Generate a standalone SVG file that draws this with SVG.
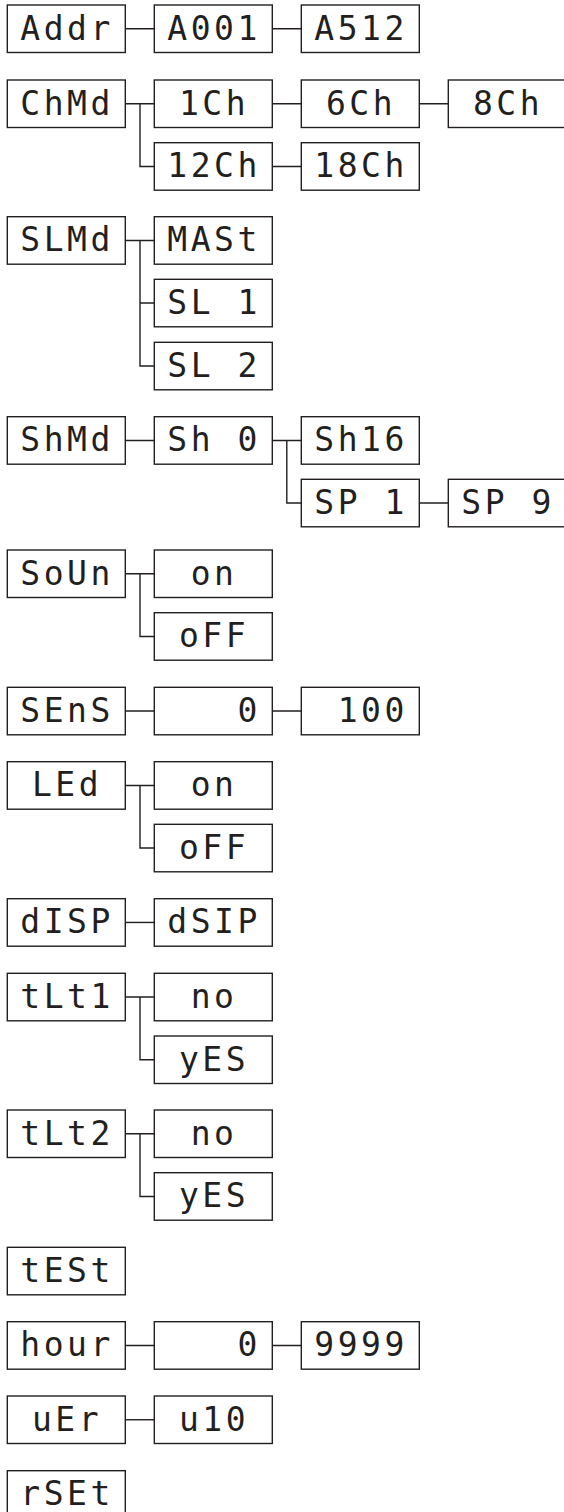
<svg xmlns="http://www.w3.org/2000/svg" width="564" height="1512" viewBox="0 0 564 1512">
<style>
.b{fill:#fff;stroke:#231f20;stroke-width:1.4}
.t{font-family:"DejaVu Sans Mono","Liberation Mono",monospace;font-size:33px;fill:#231f20;letter-spacing:3.5px;white-space:pre}
.c{fill:none;stroke:#231f20;stroke-width:1.4}
</style>
<rect width="564" height="1512" fill="#fff"/>
<g id="connectors" class="c">
<path d="M125.3 28.75H154.3M272.3 28.75H301.3"/>
<path d="M125.3 103.75H154.3M140 103.75V166.45H154.3M272.3 103.75H301.3M419.3 103.75H448.3M272.3 166.45H301.3"/>
<path d="M125.3 240.45H154.3M140 240.45V366.05H154.3M140 303.05H154.3"/>
<path d="M125.3 440.45H154.3M272.3 440.45H301.3M286.8 440.45V503.05H301.3M419.3 503.05H448.3"/>
<path d="M125.3 573.75H154.3M140 573.75V636.45H154.3"/>
<path d="M125.3 711.05H154.3M272.3 711.05H301.3"/>
<path d="M125.3 785.45H154.3M140 785.45V848.05H154.3"/>
<path d="M125.3 922.45H154.3"/>
<path d="M125.3 997.05H154.3M140 997.05V1059.75H154.3"/>
<path d="M125.3 1133.75H154.3M140 1133.75V1196.45H154.3"/>
<path d="M125.3 1345.45H154.3M272.3 1345.45H301.3"/>
<path d="M125.3 1419.75H154.3"/>
</g>
<g id="n_addr"><rect class="b" x="7.3" y="5" width="118" height="47.5"/><text class="t" x="20.3" y="39.5">Addr</text></g>
<g id="n_a001"><rect class="b" x="154.3" y="5" width="118" height="47.5"/><text class="t" x="167.3" y="39.5">A001</text></g>
<g id="n_a512"><rect class="b" x="301.3" y="5" width="118" height="47.5"/><text class="t" x="314.3" y="39.5">A512</text></g>
<g id="n_chmd"><rect class="b" x="7.3" y="80" width="118" height="47.5"/><text class="t" x="20.3" y="114.5">ChMd</text></g>
<g id="n_1ch"><rect class="b" x="154.3" y="80" width="118" height="47.5"/><text class="t" x="179" y="114.5">1Ch</text></g>
<g id="n_6ch"><rect class="b" x="301.3" y="80" width="118" height="47.5"/><text class="t" x="326" y="114.5">6Ch</text></g>
<g id="n_8ch"><rect class="b" x="448.3" y="80" width="118" height="47.5"/><text class="t" x="473" y="114.5">8Ch</text></g>
<g id="n_12ch"><rect class="b" x="154.3" y="142.7" width="118" height="47.5"/><text class="t" x="167.3" y="177.2">12Ch</text></g>
<g id="n_18ch"><rect class="b" x="301.3" y="142.7" width="118" height="47.5"/><text class="t" x="314.3" y="177.2">18Ch</text></g>
<g id="n_slmd"><rect class="b" x="7.3" y="216.7" width="118" height="47.5"/><text class="t" x="20.3" y="251.2">SLMd</text></g>
<g id="n_mast"><rect class="b" x="154.3" y="216.7" width="118" height="47.5"/><text class="t" x="167.3" y="251.2">MASt</text></g>
<g id="n_sl1"><rect class="b" x="154.3" y="279.3" width="118" height="47.5"/><text class="t" x="167.3" y="313.8" xml:space="preserve">SL 1</text></g>
<g id="n_sl2"><rect class="b" x="154.3" y="342.3" width="118" height="47.5"/><text class="t" x="167.3" y="376.8" xml:space="preserve">SL 2</text></g>
<g id="n_shmd"><rect class="b" x="7.3" y="416.7" width="118" height="47.5"/><text class="t" x="20.3" y="451.2">ShMd</text></g>
<g id="n_sh0"><rect class="b" x="154.3" y="416.7" width="118" height="47.5"/><text class="t" x="167.3" y="451.2" xml:space="preserve">Sh 0</text></g>
<g id="n_sh16"><rect class="b" x="301.3" y="416.7" width="118" height="47.5"/><text class="t" x="314.3" y="451.2">Sh16</text></g>
<g id="n_sp1"><rect class="b" x="301.3" y="479.3" width="118" height="47.5"/><text class="t" x="314.3" y="513.8" xml:space="preserve">SP 1</text></g>
<g id="n_sp9"><rect class="b" x="448.3" y="479.3" width="118" height="47.5"/><text class="t" x="461.3" y="513.8" xml:space="preserve">SP 9</text></g>
<g id="n_soun"><rect class="b" x="7.3" y="550" width="118" height="47.5"/><text class="t" x="20.3" y="584.5">SoUn</text></g>
<g id="n_son"><rect class="b" x="154.3" y="550" width="118" height="47.5"/><text class="t" x="190.7" y="584.5">on</text></g>
<g id="n_soff"><rect class="b" x="154.3" y="612.7" width="118" height="47.5"/><text class="t" x="179" y="647.2">oFF</text></g>
<g id="n_sens"><rect class="b" x="7.3" y="687.3" width="118" height="47.5"/><text class="t" x="20.3" y="721.8">SEnS</text></g>
<g id="n_s0"><rect class="b" x="154.3" y="687.3" width="118" height="47.5"/><text class="t" x="167.3" y="721.8" xml:space="preserve">   0</text></g>
<g id="n_s100"><rect class="b" x="301.3" y="687.3" width="118" height="47.5"/><text class="t" x="314.3" y="721.8" xml:space="preserve"> 100</text></g>
<g id="n_led"><rect class="b" x="7.3" y="761.7" width="118" height="47.5"/><text class="t" x="32" y="796.2">LEd</text></g>
<g id="n_lon"><rect class="b" x="154.3" y="761.7" width="118" height="47.5"/><text class="t" x="190.7" y="796.2">on</text></g>
<g id="n_loff"><rect class="b" x="154.3" y="824.3" width="118" height="47.5"/><text class="t" x="179" y="858.8">oFF</text></g>
<g id="n_disp"><rect class="b" x="7.3" y="898.7" width="118" height="47.5"/><text class="t" x="20.3" y="933.2">dISP</text></g>
<g id="n_dsip"><rect class="b" x="154.3" y="898.7" width="118" height="47.5"/><text class="t" x="167.3" y="933.2">dSIP</text></g>
<g id="n_tlt1"><rect class="b" x="7.3" y="973.3" width="118" height="47.5"/><text class="t" x="20.3" y="1007.8">tLt1</text></g>
<g id="n_t1no"><rect class="b" x="154.3" y="973.3" width="118" height="47.5"/><text class="t" x="190.7" y="1007.8">no</text></g>
<g id="n_t1yes"><rect class="b" x="154.3" y="1036" width="118" height="47.5"/><text class="t" x="179" y="1070.5">yES</text></g>
<g id="n_tlt2"><rect class="b" x="7.3" y="1110" width="118" height="47.5"/><text class="t" x="20.3" y="1144.5">tLt2</text></g>
<g id="n_t2no"><rect class="b" x="154.3" y="1110" width="118" height="47.5"/><text class="t" x="190.7" y="1144.5">no</text></g>
<g id="n_t2yes"><rect class="b" x="154.3" y="1172.7" width="118" height="47.5"/><text class="t" x="179" y="1207.2">yES</text></g>
<g id="n_test"><rect class="b" x="7.3" y="1247.3" width="118" height="47.5"/><text class="t" x="20.3" y="1281.8">tESt</text></g>
<g id="n_hour"><rect class="b" x="7.3" y="1321.7" width="118" height="47.5"/><text class="t" x="20.3" y="1356.2">hour</text></g>
<g id="n_h0"><rect class="b" x="154.3" y="1321.7" width="118" height="47.5"/><text class="t" x="167.3" y="1356.2" xml:space="preserve">   0</text></g>
<g id="n_h9999"><rect class="b" x="301.3" y="1321.7" width="118" height="47.5"/><text class="t" x="314.3" y="1356.2">9999</text></g>
<g id="n_uer"><rect class="b" x="7.3" y="1396" width="118" height="47.5"/><text class="t" x="32" y="1430.5">uEr</text></g>
<g id="n_u10"><rect class="b" x="154.3" y="1396" width="118" height="47.5"/><text class="t" x="179" y="1430.5">u10</text></g>
<g id="n_rset"><rect class="b" x="7.3" y="1470.7" width="118" height="47.5"/><text class="t" x="20.3" y="1505.2">rSEt</text></g>
</svg>
